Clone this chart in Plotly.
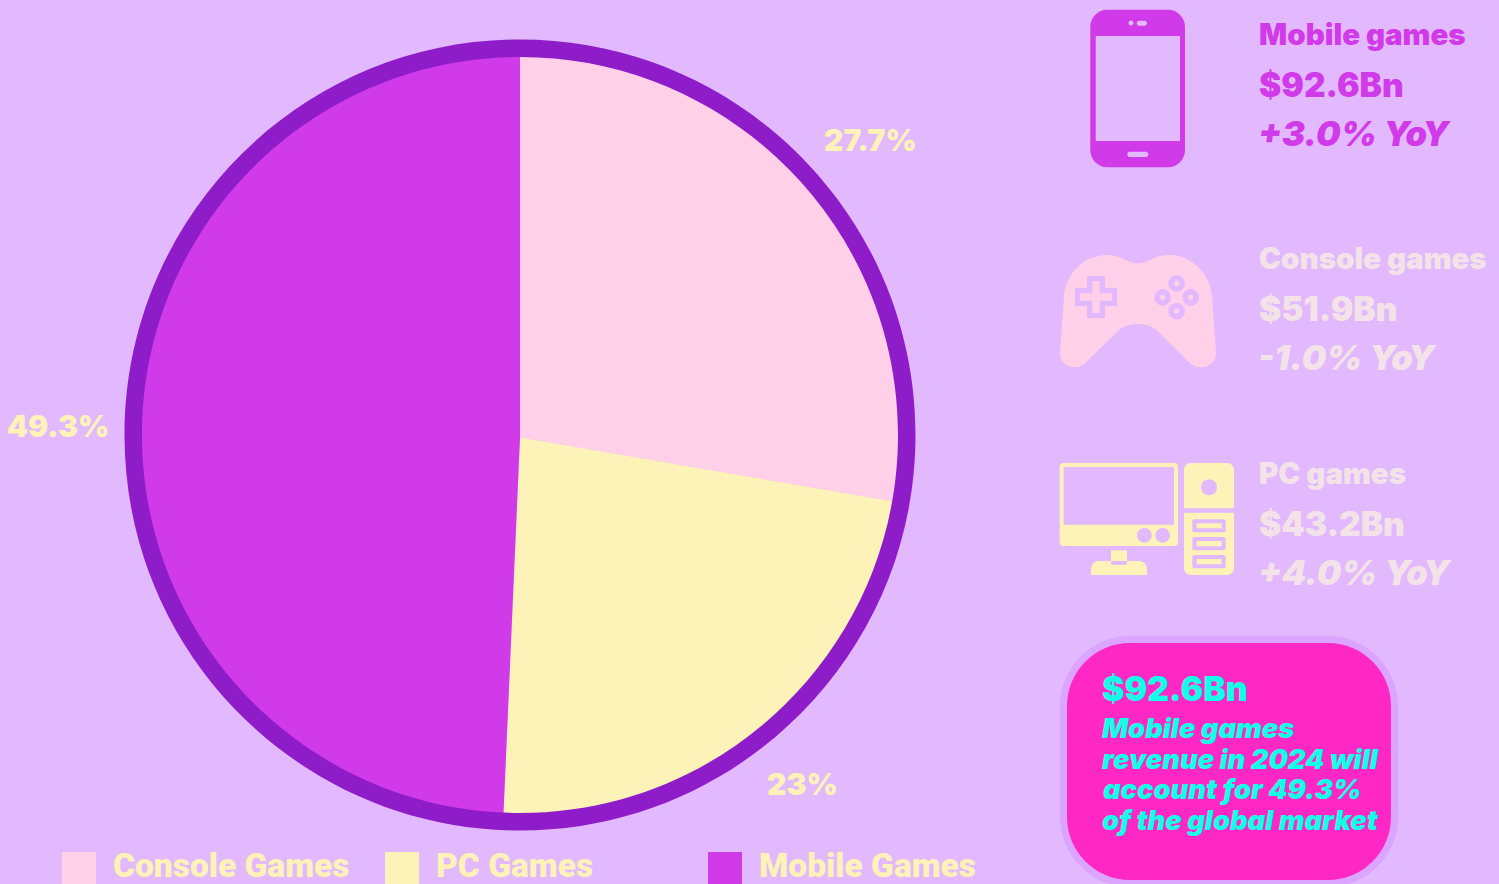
import plotly.graph_objects as go

W, H = 1499, 884
categories = ["Console Games", "PC Games", "Mobile Games"]
shares = [27.7, 23, 49.3]
share_labels = ["27.7%", "23%", "49.3%"]
panel_names = ["Mobile games", "Console games", "PC games"]
panel_values = ["$92.6Bn", "$51.9Bn", "$43.2Bn"]
panel_yoy = ["+3.0% YoY", "-1.0% YoY", "+4.0% YoY"]
card_title = "$92.6Bn"
card_lines = ["Mobile games", "revenue in 2024 will", "account for 49.3%", "of the global market"]

BG = "#E2B9FE"
PINK = "#FFD0E8"
CREAM = "#FDF2B8"
MAGENTA = "#D13AE8"
RING = "#8E1CC8"
PALE = "#F3E3E8"
CARD = "#FF28C4"
CARD_EDGE = "#DBA5FF"
CYAN = "#12FFE8"
FONT = "Inter"

def px(x): return x / W
def py(y): return 1 - y / H
def pt(x, y): return f"{px(x):.6f},{py(y):.6f}"
K = 0.5523

def rrect(x0, y0, x1, y1, r=0, rb=None):
    rb = r if rb is None else rb
    def corner(c1, c2, e):
        return f"C{pt(*c1)} {pt(*c2)} {pt(*e)}"
    s = "M" + pt(x0 + r, y0) + "L" + pt(x1 - r, y0)
    if r:
        s += corner((x1 - r + K * r, y0), (x1, y0 + r - K * r), (x1, y0 + r))
    s += "L" + pt(x1, y1 - rb)
    if rb:
        s += corner((x1, y1 - rb + K * rb), (x1 - rb + K * rb, y1), (x1 - rb, y1))
    s += "L" + pt(x0 + rb, y1)
    if rb:
        s += corner((x0 + rb - K * rb, y1), (x0, y1 - rb + K * rb), (x0, y1 - rb))
    s += "L" + pt(x0, y0 + r)
    if r:
        s += corner((x0, y0 + r - K * r), (x0 + r - K * r, y0), (x0 + r, y0))
    return s + "Z"

def circle(cx, cy, r):
    return rrect(cx - r, cy - r, cx + r, cy + r, r)

def cross(cx, cy, a, b):
    p = [(cx + u, cy + v) for u, v in [(-b,-a),(b,-a),(b,-b),(a,-b),(a,b),(b,b),(b,a),(-b,a),(-b,b),(-a,b),(-a,-b),(-b,-b)]]
    return "M" + "L".join(pt(*q) for q in p) + "Z"

def z(zx, zy):
    return (1040 + zx / 3, 230 + zy / 3)

def cubic(a, b, c):
    return f"C{pt(*z(*a))} {pt(*z(*b))} {pt(*z(*c))}"

shapes = []
def add(path, color):
    shapes.append(dict(type="path", path=path, xref="paper", yref="paper",
                       fillcolor=color, line=dict(width=0), layer="above"))

# ring over the pie edge
add(circle(520, 435, 395.5) + circle(520, 435, 378), RING)

# phone
add(rrect(1090.3, 9.8, 1185, 167.3, 17) + rrect(1095.7, 36, 1180, 141, 0) + circle(1131, 23, 2.5)
    + rrect(1136.7, 20.7, 1147, 25.7, 2.5) + rrect(1127.3, 151.7, 1148.3, 157, 2.6), MAGENTA)

# controller
pad = "M" + pt(*z(293, 100))
pad += cubic((262, 100), (245, 75), (200, 75))
pad += cubic((130, 75), (75, 135), (72, 200))
pad += "L" + pt(*z(60, 365))
pad += cubic((58, 395), (80, 412), (107, 412))
pad += cubic((120, 412), (128, 407), (135, 400))
pad += "L" + pt(*z(235, 302))
pad += cubic((250, 288), (270, 282), (293, 282))
pad += cubic((316, 282), (336, 288), (351, 302))
pad += "L" + pt(*z(451, 400))
pad += cubic((458, 407), (466, 412), (480, 412))
pad += cubic((506, 412), (530, 395), (528, 365))
pad += "L" + pt(*z(516, 200))
pad += cubic((512, 135), (458, 75), (388, 75))
pad += cubic((342, 75), (325, 100), (293, 100)) + "Z"
dx, dy = z(168, 201)
pad += cross(dx, dy, 21, 9) + cross(dx, dy, 16, 3.7)
for bx, by in [(410, 160), (368, 202), (452, 202), (410, 243)]:
    cx, cy = z(bx, by)
    pad += circle(cx, cy, 8.3) + circle(cx, cy, 2.8)
add(pad, PINK)

# computer
def zr(a, b, c, d, r=0, rb=None):
    x0, y0 = z(a, b); x1, y1 = z(c, d)
    return rrect(x0, y0, x1, y1, r, rb)
mon = zr(59, 699, 414, 948, 3.5) + zr(71, 711, 402, 884)
for bx in (313, 368):
    cx, cy = z(bx, 916)
    mon += circle(cx, cy, 7.3)
add(mon, CREAM)
add(zr(213, 961, 261, 993), CREAM)
add(zr(153, 993, 321, 1035, 8, 0) + zr(213, 993, 261, 1004, 0, 1.5), CREAM)
cx, cy = z(507, 772)
add(zr(432, 699, 582, 835, 7, 0) + circle(cx, cy, 8), CREAM)
tower = zr(432, 848, 582, 1035, 0, 7)
for a, b in [(868, 907), (921, 961), (975, 1015)]:
    tower += zr(457, a, 557, b, 2) + zr(470, a + 12, 545, b - 12)
add(tower, CREAM)

# card
add(rrect(1060, 636, 1398, 887, 70), CARD_EDGE)
add(rrect(1067, 643, 1391, 880, 63), CARD)

annotations = []
def text(s, x, y, size, color, italic=False, weight=800, family=FONT, anchor="left"):
    annotations.append(dict(text=s, x=px(x), y=py(y), xref="paper", yref="paper", showarrow=False,
                            xanchor=anchor, yanchor="middle", align="left",
                            font=dict(family=family, size=size, color=color, weight=weight,
                                      style="italic" if italic else "normal")))

# pie labels
for lab, (lx, ly) in zip(share_labels, [(870, 140), (802, 784), (58, 426)]):
    text(lab, lx, ly, 30, CREAM, anchor="center", weight=900)

# legend
for name, col, x in zip(categories, [PINK, CREAM, MAGENTA], [62, 385, 708]):
    shapes.append(dict(type="rect", xref="paper", yref="paper", x0=px(x), x1=px(x + 34),
                       y0=py(884), y1=py(852), fillcolor=col, line=dict(width=0), layer="above"))
    text(name, x + 49, 865, 33.5, CREAM, family="Roboto", weight=900)

# panels
for n, v, g, col, y0 in zip(panel_names, panel_values, panel_yoy, [MAGENTA, PALE, PALE], [35, 259, 474]):
    text(n, 1257, y0 - 1, 29.5, col, weight=900)
    text(v, 1257, y0 + 50, 33.5, col, weight=900)
    text(g, 1256, y0 + 98, 34.5, col, italic=True, weight=900)

text(card_title, 1100, 688, 33.7, CYAN, weight=900)
for line, y in zip(card_lines, [728, 759, 789, 820]):
    text(line, 1100, y, 27.3, CYAN, italic=True, weight=900)

fig = go.Figure(go.Pie(
    labels=categories, values=shares, sort=False, direction="clockwise", rotation=0,
    marker=dict(colors=[PINK, CREAM, MAGENTA], line=dict(width=0)),
    textinfo="none", showlegend=False,
    domain=dict(x=[px(139), px(901)], y=[py(818.5), py(56.5)]),
))
fig.update_layout(width=W, height=H, margin=dict(l=0, r=0, t=0, b=0), paper_bgcolor=BG,
                  plot_bgcolor=BG, shapes=shapes, annotations=annotations, showlegend=False)
fig.write_html("out.html", config=dict(displayModeBar=False),
               post_script="document.body.style.margin='0';document.body.style.overflow='hidden';document.body.style.background='%s';" % BG)
